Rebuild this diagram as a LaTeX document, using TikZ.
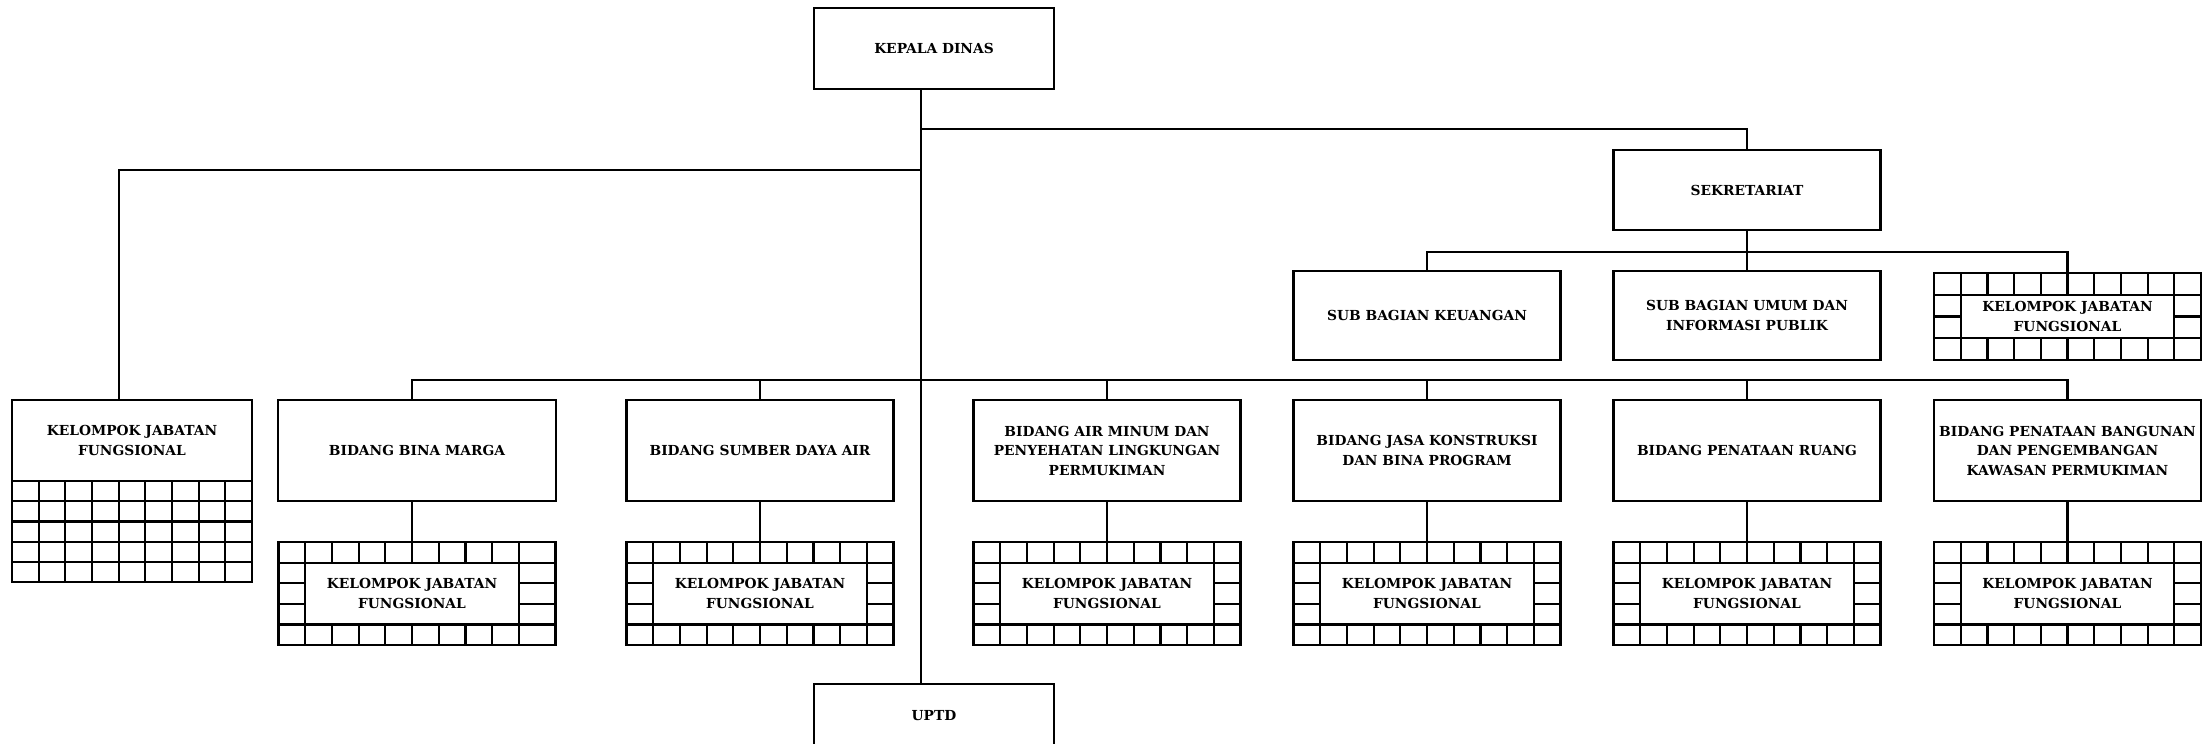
\documentclass[tikz,border=0pt]{standalone}
\usepackage{fontspec}
\setmainfont{DejaVu Serif}
\usetikzlibrary{calc}
\begin{document}
\begin{tikzpicture}[x=1pt, y=-1pt,
  rule/.style={line width=2.2pt},
  unit/.style={rule, draw, outer sep=0pt, inner sep=2pt, align=center,
    font=\fontsize{13.8}{19.5}\selectfont\bfseries},
  head/.style={unit, minimum width=240pt, minimum height=81pt},
  sub/.style={unit, minimum width=267pt, minimum height=89pt},
  bidang/.style={unit, minimum width=267pt, minimum height=101pt},
  kjfbox/.style={unit, fill=white, minimum width=213.6pt, minimum height=61.8pt}]
  \useasboundingbox (0,0) rectangle (2204,744);
  % pimpinan
  \node[head] (kepala) at (934,48.5) {KEPALA DINAS};
  \node[head, minimum height=64pt] (uptd) at (934,716) {UPTD};
  \node[unit, minimum width=267pt, minimum height=80pt] (sek) at (1747,190) {SEKRETARIAT};
  % sekretariat
  \node[sub] (keu) at (1427,315.5) {SUB BAGIAN KEUANGAN};
  \node[sub] (umum) at (1747,315.5) {SUB BAGIAN UMUM DAN\\INFORMASI PUBLIK};
  \coordinate (KStl) at (1934,273);
  \draw[rule] (KStl) rectangle ++(267,87);
  \foreach \i in {1,...,9} \draw[rule] ($(KStl)+(\i*26.7,0)$) -- ++(0,87);
  \foreach \j in {1,2,3} \draw[rule] ($(KStl)+(0,\j*21.75)$) -- ++(267,0);
  \node[kjfbox, minimum height=43.5pt] (kjfS) at (2067.5,316.5) {KELOMPOK JABATAN\\FUNGSIONAL};
  % kelompok jabatan fungsional kiri
  \node[head] (kjfL) at (132,440.5) {KELOMPOK JABATAN\\FUNGSIONAL};
  \draw[rule] (kjfL.south west) rectangle ++(240,101);
  \foreach \i in {1,...,8} \draw[rule] ($(kjfL.south west)+(\i*26.67,0)$) -- ++(0,101);
  \foreach \j in {1,...,4} \draw[rule] ($(kjfL.south west)+(0,\j*20.2)$) -- ++(240,0);
  % bidang
  \node[bidang, minimum width=278pt] (bm) at (417,450.5) {BIDANG BINA MARGA};
  \node[bidang] (sda) at (760,450.5) {BIDANG SUMBER DAYA AIR};
  \node[bidang] (am) at (1107,450.5) {BIDANG AIR MINUM DAN\\PENYEHATAN LINGKUNGAN\\PERMUKIMAN};
  \node[bidang] (jk) at (1427,450.5) {BIDANG JASA KONSTRUKSI\\DAN BINA PROGRAM};
  \node[bidang] (pr) at (1747,450.5) {BIDANG PENATAAN RUANG};
  \node[bidang] (pb) at (2067.5,450.5) {BIDANG PENATAAN BANGUNAN\\DAN PENGEMBANGAN\\KAWASAN PERMUKIMAN};
  \foreach \b/\nm/\cx/\ex in {bm/BM/412/10, sda/SDA/760/0, am/AM/1107/0, jk/JK/1427/0, pr/PR/1747/0, pb/PB/2067.5/0} {
    \coordinate (tl\nm) at (\cx-133.5,542);
    \draw[rule] (tl\nm) rectangle ++(267+\ex,103);
    \foreach \i in {1,...,9} \draw[rule] ($(tl\nm)+(\i*26.7,0)$) -- ++(0,103);
    \foreach \j in {1,...,4} \draw[rule] ($(tl\nm)+(0,\j*20.6)$) -- ++(267+\ex,0);
    \node[kjfbox] (kjf\nm) at (\cx,593.5) {KELOMPOK JABATAN\\FUNGSIONAL};
    \draw[rule] (kjf\nm |- \b.south) -- (tl\nm -| kjf\nm);
  }
  % garis
  \coordinate (trunkS) at (921,129);
  \coordinate (trunkL) at (921,170);
  \coordinate (trunkB) at (921,380);
  \coordinate (sekS) at (1747,252);
  \draw[rule] ([xshift=-13pt]kepala.south) -- ([xshift=-13pt]uptd.north);
  \draw[rule] (trunkS) -| (sek.north);
  \draw[rule] (trunkL) -| ([xshift=-13pt]kjfL.north);
  \draw[rule] (sek.south) -- (umum.north);
  \draw[rule] (keu.north) |- (sekS) -| (kjfS |- KStl);
  \draw[rule] (kjfBM |- bm.north) |- (trunkB) -| (pb.north);
  \foreach \b in {sda,am,jk,pr} \draw[rule] (\b.north |- trunkB) -- (\b.north);
\end{tikzpicture}
\end{document}
